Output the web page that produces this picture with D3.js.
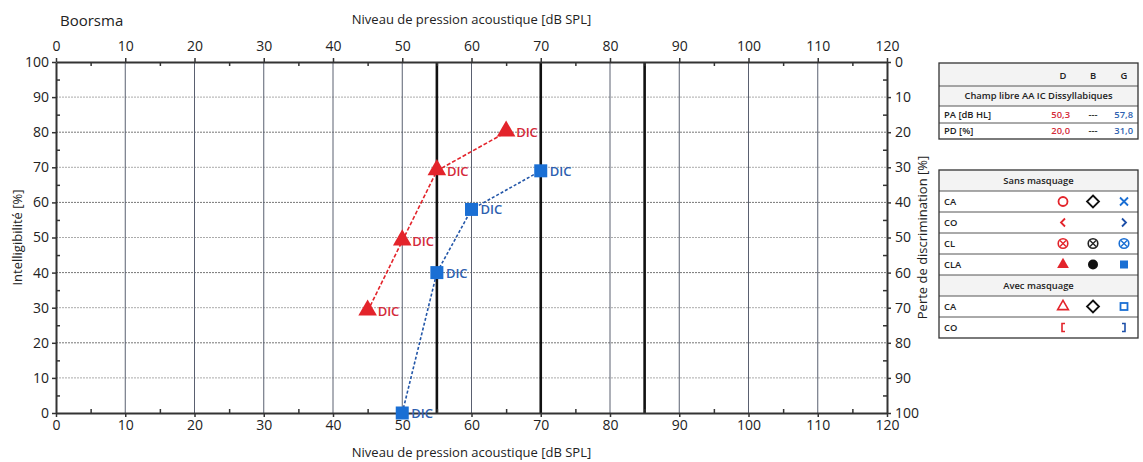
<!DOCTYPE html>
<meta charset="utf-8">
<style>
 body { margin: 0; background: #fff; }
 text { font-family: "Open Sans", sans-serif; }
 .tick text { font-size: 14px; fill: #222; }
 .axis path, .axis line { stroke: #333; }
 .lg text { font-size: 9.4px; font-weight: 600; }
</style>
<body>
<div id="chart"></div>
<script src="https://cdn.jsdelivr.net/npm/d3@7"></script>
<script>
(function(){

  var width = 1143, height = 462;

  // data
  var xTicks = [0,10,20,30,40,50,60,70,80,90,100,110,120];
  var yTicks = [0,10,20,30,40,50,60,70,80,90,100];
  var thickLines = [55, 70, 85];
  var rightLevel = [45, 50, 55, 65];      // dB SPL, D (red)
  var rightScore = [29, 49, 69, 80];      // %
  var leftLevel = [50, 55, 60, 70];       // dB SPL, G (blue)
  var leftScore = [0, 40, 58, 69];        // %
  var summaryRows = [["PA [dB HL]", "50,3", "---", "57,8"], ["PD [%]", "20,0", "---", "31,0"]];
  var legendRows = ["CA", "CO", "CL", "CLA", "CA", "CO"];

  var red = "#e3242b", blue = "#1a6fd4";
  var redTxt = "#d42a3a", blueTxt = "#2e5fb0";

  var svg = d3.select("#chart").append("svg")
      .attr("width", width).attr("height", height);

  var x = d3.scaleLinear().domain([0, 120]).range([56, 887]);
  var y = d3.scaleLinear().domain([0, 100]).range([413, 62]);
  var yR = d3.scaleLinear().domain([0, 100]).range([62, 413]);

  // grid
  var grid = svg.append("g");
  grid.selectAll(".hg").data(yTicks.slice(1, -1)).enter().append("line")
      .attr("x1", x(0)).attr("x2", x(120))
      .attr("y1", function(d){ return y(d); }).attr("y2", function(d){ return y(d); })
      .attr("stroke", function(d){ return d % 20 === 0 ? "#777" : "#aaa"; })
      .attr("stroke-width", 1)
      .attr("stroke-dasharray", "2,1");
  grid.selectAll(".vg").data(xTicks.slice(1, -1)).enter().append("line")
      .attr("y1", y(0)).attr("y2", y(100))
      .attr("x1", function(d){ return x(d); }).attr("x2", function(d){ return x(d); })
      .attr("stroke", "#5a6070").attr("stroke-width", 1);
  grid.selectAll(".tg").data(thickLines).enter().append("line")
      .attr("y1", y(0)).attr("y2", y(100))
      .attr("x1", function(d){ return x(d); }).attr("x2", function(d){ return x(d); })
      .attr("stroke", "#111").attr("stroke-width", 2.6);

  // axes
  var minorX = d3.range(5, 120, 10), minorY = d3.range(5, 100, 10);
  function styleAxis(g) {
    g.attr("class", "axis");
    g.select(".domain").attr("stroke-width", 2);
  }
  svg.append("g").attr("transform", "translate(0," + y(0) + ")")
      .call(d3.axisBottom(x).tickValues(xTicks).tickSize(4).tickPadding(3).tickSizeOuter(0)).call(styleAxis);
  svg.append("g").attr("transform", "translate(0," + y(100) + ")")
      .call(d3.axisTop(x).tickValues(xTicks).tickSize(4).tickPadding(7).tickSizeOuter(0)).call(styleAxis);
  svg.append("g").attr("transform", "translate(" + x(0) + ",0)")
      .call(d3.axisLeft(y).tickValues(yTicks).tickSize(4).tickPadding(3).tickSizeOuter(0)).call(styleAxis);
  svg.append("g").attr("transform", "translate(" + x(120) + ",0)")
      .call(d3.axisRight(yR).tickValues(yTicks).tickSize(4).tickPadding(4).tickSizeOuter(0)).call(styleAxis);
  // minor ticks
  svg.append("g").attr("transform", "translate(0," + y(0) + ")")
      .call(d3.axisTop(x).tickValues(minorX).tickSize(4).tickFormat("")).select(".domain").remove();
  svg.append("g").attr("transform", "translate(0," + y(100) + ")")
      .call(d3.axisBottom(x).tickValues(minorX).tickSize(4).tickFormat("")).select(".domain").remove();
  svg.append("g").attr("transform", "translate(" + x(0) + ",0)")
      .call(d3.axisRight(y).tickValues(minorY).tickSize(4).tickFormat("")).select(".domain").remove();
  svg.append("g").attr("transform", "translate(" + x(120) + ",0)")
      .call(d3.axisLeft(y).tickValues(minorY).tickSize(4).tickFormat("")).select(".domain").remove();
  svg.selectAll(".tick line").attr("stroke", "#333").attr("stroke-width", 1.5);

  // titles
  svg.append("text").attr("x", 60).attr("y", 26).attr("font-size", 15).attr("fill", "#222").text("Boorsma");
  svg.append("text").attr("x", (x(0) + x(120)) / 2).attr("y", 24).attr("text-anchor", "middle")
      .attr("font-size", 13).attr("fill", "#222").text("Niveau de pression acoustique [dB SPL]");
  svg.append("text").attr("x", (x(0) + x(120)) / 2).attr("y", 457).attr("text-anchor", "middle")
      .attr("font-size", 13).attr("fill", "#222").text("Niveau de pression acoustique [dB SPL]");
  svg.append("text").attr("transform", "translate(22," + y(50) + ") rotate(-90)").attr("text-anchor", "middle")
      .attr("font-size", 13).attr("fill", "#222").text("Intelligibilité [%]");
  svg.append("text").attr("transform", "translate(927," + y(50) + ") rotate(-90)").attr("text-anchor", "middle")
      .attr("font-size", 13).attr("fill", "#222").text("Perte de discrimination [%]");

  // series
  var line = d3.line().x(function(d){ return x(d[0]); }).y(function(d){ return y(d[1]); });
  var rightPts = d3.zip(rightLevel, rightScore), leftPts = d3.zip(leftLevel, leftScore);

  svg.append("path").datum(rightPts).attr("d", line).attr("fill", "none")
      .attr("stroke", red).attr("stroke-width", 1.6).attr("stroke-dasharray", "4,2");
  svg.append("path").datum(leftPts).attr("d", line).attr("fill", "none")
      .attr("stroke", "#2356a8").attr("stroke-width", 1.6).attr("stroke-dasharray", "3,2");

  var tri = d3.symbol().type(d3.symbolTriangle).size(150);
  svg.selectAll(".tri").data(rightPts).enter().append("path")
      .attr("d", tri).attr("fill", red)
      .attr("transform", function(d){ return "translate(" + x(d[0]) + "," + (y(d[1]) - 1) + ")"; });
  svg.selectAll(".sq").data(leftPts).enter().append("rect")
      .attr("x", function(d){ return x(d[0]) - 6.5; }).attr("y", function(d){ return y(d[1]) - 6.5; })
      .attr("width", 13).attr("height", 13).attr("fill", blue);

  svg.selectAll(".rl").data(rightPts).enter().append("text")
      .attr("x", function(d){ return x(d[0]) + 10; }).attr("y", function(d){ return y(d[1]) + 5; })
      .attr("font-size", 13).attr("font-weight", 600).attr("fill", redTxt).text("DIC");
  svg.selectAll(".ll").data(leftPts).enter().append("text")
      .attr("x", function(d){ return x(d[0]) + 9; }).attr("y", function(d){ return y(d[1]) + 5; })
      .attr("font-size", 13).attr("font-weight", 600).attr("fill", blueTxt).text("DIC");

  // legend box 1
  var lx = 939, lw = 199, cD = 1063, cB = 1093, cG = 1124;
  var lg1 = svg.append("g").attr("class", "lg");
  var r1 = [63, 86, 106, 123, 139];
  lg1.append("rect").attr("x", lx).attr("y", r1[0]).attr("width", lw).attr("height", r1[2] - r1[0]).attr("fill", "#f3f3f3");
  lg1.append("text").attr("x", cD).attr("y", 79).attr("text-anchor", "middle").style("fill", "#222").text("D");
  lg1.append("text").attr("x", cB).attr("y", 79).attr("text-anchor", "middle").style("fill", "#222").text("B");
  lg1.append("text").attr("x", cG).attr("y", 79).attr("text-anchor", "middle").style("fill", "#222").text("G");
  lg1.append("text").attr("x", lx + lw / 2).attr("y", 99).attr("text-anchor", "middle").style("fill", "#222").text("Champ libre AA IC Dissyllabiques");
  summaryRows.forEach(function(r, i){
    var yy = (r1[i + 2] + r1[i + 3]) / 2 + 3;
    lg1.append("text").attr("x", lx + 5).attr("y", yy).style("fill", "#222").text(r[0]);
    lg1.append("text").attr("x", cD + 7).attr("y", yy).attr("text-anchor", "end").style("fill", redTxt).text(r[1]);
    lg1.append("text").attr("x", cB).attr("y", yy).attr("text-anchor", "middle").style("fill", "#222").text(r[2]);
    lg1.append("text").attr("x", lx + lw - 5).attr("y", yy).attr("text-anchor", "end").style("fill", blueTxt).text(r[3]);
  });
  r1.slice(1, -1).forEach(function(v){
    lg1.append("line").attr("x1", lx).attr("x2", lx + lw).attr("y1", v).attr("y2", v).attr("stroke", "#555");
  });
  lg1.append("rect").attr("x", lx).attr("y", r1[0]).attr("width", lw).attr("height", r1[4] - r1[0])
      .attr("fill", "none").attr("stroke", "#333").attr("stroke-width", 1.3);

  // legend box 2
  var lg2 = svg.append("g").attr("class", "lg");
  var top2 = 170, rh = 21;
  var rowsY = d3.range(9).map(function(i){ return top2 + i * rh; });
  [0, 5].forEach(function(i){
    lg2.append("rect").attr("x", lx).attr("y", rowsY[i]).attr("width", lw).attr("height", rh).attr("fill", "#f3f3f3");
  });
  lg2.append("text").attr("x", lx + lw / 2).attr("y", rowsY[0] + 14).attr("text-anchor", "middle").style("fill", "#222").text("Sans masquage");
  lg2.append("text").attr("x", lx + lw / 2).attr("y", rowsY[5] + 14).attr("text-anchor", "middle").style("fill", "#222").text("Avec masquage");
  var labelRowIdx = [1, 2, 3, 4, 6, 7];
  legendRows.forEach(function(t, i){
    lg2.append("text").attr("x", lx + 5).attr("y", rowsY[labelRowIdx[i]] + 14).style("fill", "#222").text(t);
  });
  rowsY.slice(1, -1).forEach(function(v){
    lg2.append("line").attr("x1", lx).attr("x2", lx + lw).attr("y1", v).attr("y2", v).attr("stroke", "#555");
  });
  lg2.append("rect").attr("x", lx).attr("y", rowsY[0]).attr("width", lw).attr("height", rowsY[8] - rowsY[0])
      .attr("fill", "none").attr("stroke", "#333").attr("stroke-width", 1.3);

  function cy(i){ return rowsY[i] + rh / 2; }
  // CA sans
  lg2.append("circle").attr("cx", cD).attr("cy", cy(1)).attr("r", 4.5).attr("fill", "none").attr("stroke", red).attr("stroke-width", 1.8);
  lg2.append("path").attr("d", "M" + cB + "," + (cy(1) - 6) + "l6,6l-6,6l-6,-6z").attr("fill", "none").attr("stroke", "#111").attr("stroke-width", 1.8);
  lg2.append("path").attr("d", "M" + (cG - 4) + "," + (cy(1) - 4) + "l8,8M" + (cG + 4) + "," + (cy(1) - 4) + "l-8,8")
      .attr("stroke", blue).attr("stroke-width", 1.8);
  // CO sans
  lg2.append("path").attr("d", "M" + (cD + 2) + "," + (cy(2) - 4) + "l-4,4l4,4").attr("fill", "none").attr("stroke", red).attr("stroke-width", 1.8);
  lg2.append("path").attr("d", "M" + (cG - 2) + "," + (cy(2) - 4) + "l4,4l-4,4").attr("fill", "none").attr("stroke", "#1d4fa8").attr("stroke-width", 1.8);
  // CL
  [[cD, red], [cB, "#222"], [cG, blue]].forEach(function(p){
    lg2.append("circle").attr("cx", p[0]).attr("cy", cy(3)).attr("r", 4.8).attr("fill", "none").attr("stroke", p[1]).attr("stroke-width", 1.6);
    lg2.append("path").attr("d", "M" + (p[0] - 3) + "," + (cy(3) - 3) + "l6,6M" + (p[0] + 3) + "," + (cy(3) - 3) + "l-6,6")
        .attr("stroke", p[1]).attr("stroke-width", 1.4);
  });
  // CLA
  lg2.append("path").attr("d", d3.symbol().type(d3.symbolTriangle).size(60)).attr("fill", red)
      .attr("transform", "translate(" + cD + "," + cy(4) + ")");
  lg2.append("circle").attr("cx", cB).attr("cy", cy(4)).attr("r", 5).attr("fill", "#111");
  lg2.append("rect").attr("x", cG - 4).attr("y", cy(4) - 4).attr("width", 8).attr("height", 8).attr("fill", blue);
  // CA avec
  lg2.append("path").attr("d", d3.symbol().type(d3.symbolTriangle).size(50)).attr("fill", "none").attr("stroke", red).attr("stroke-width", 1.6)
      .attr("transform", "translate(" + cD + "," + cy(6) + ")");
  lg2.append("path").attr("d", "M" + cB + "," + (cy(6) - 6) + "l6,6l-6,6l-6,-6z").attr("fill", "none").attr("stroke", "#111").attr("stroke-width", 1.8);
  lg2.append("rect").attr("x", cG - 3.5).attr("y", cy(6) - 3.5).attr("width", 7).attr("height", 7).attr("fill", "none").attr("stroke", blue).attr("stroke-width", 1.8);
  // CO avec
  lg2.append("path").attr("d", "M" + (cD + 2) + "," + (cy(7) - 4) + "h-3v8h3").attr("fill", "none").attr("stroke", red).attr("stroke-width", 1.6);
  lg2.append("path").attr("d", "M" + (cG - 2) + "," + (cy(7) - 4) + "h3v8h-3").attr("fill", "none").attr("stroke", "#1d4fa8").attr("stroke-width", 1.6);

})();
</script>
</body>
